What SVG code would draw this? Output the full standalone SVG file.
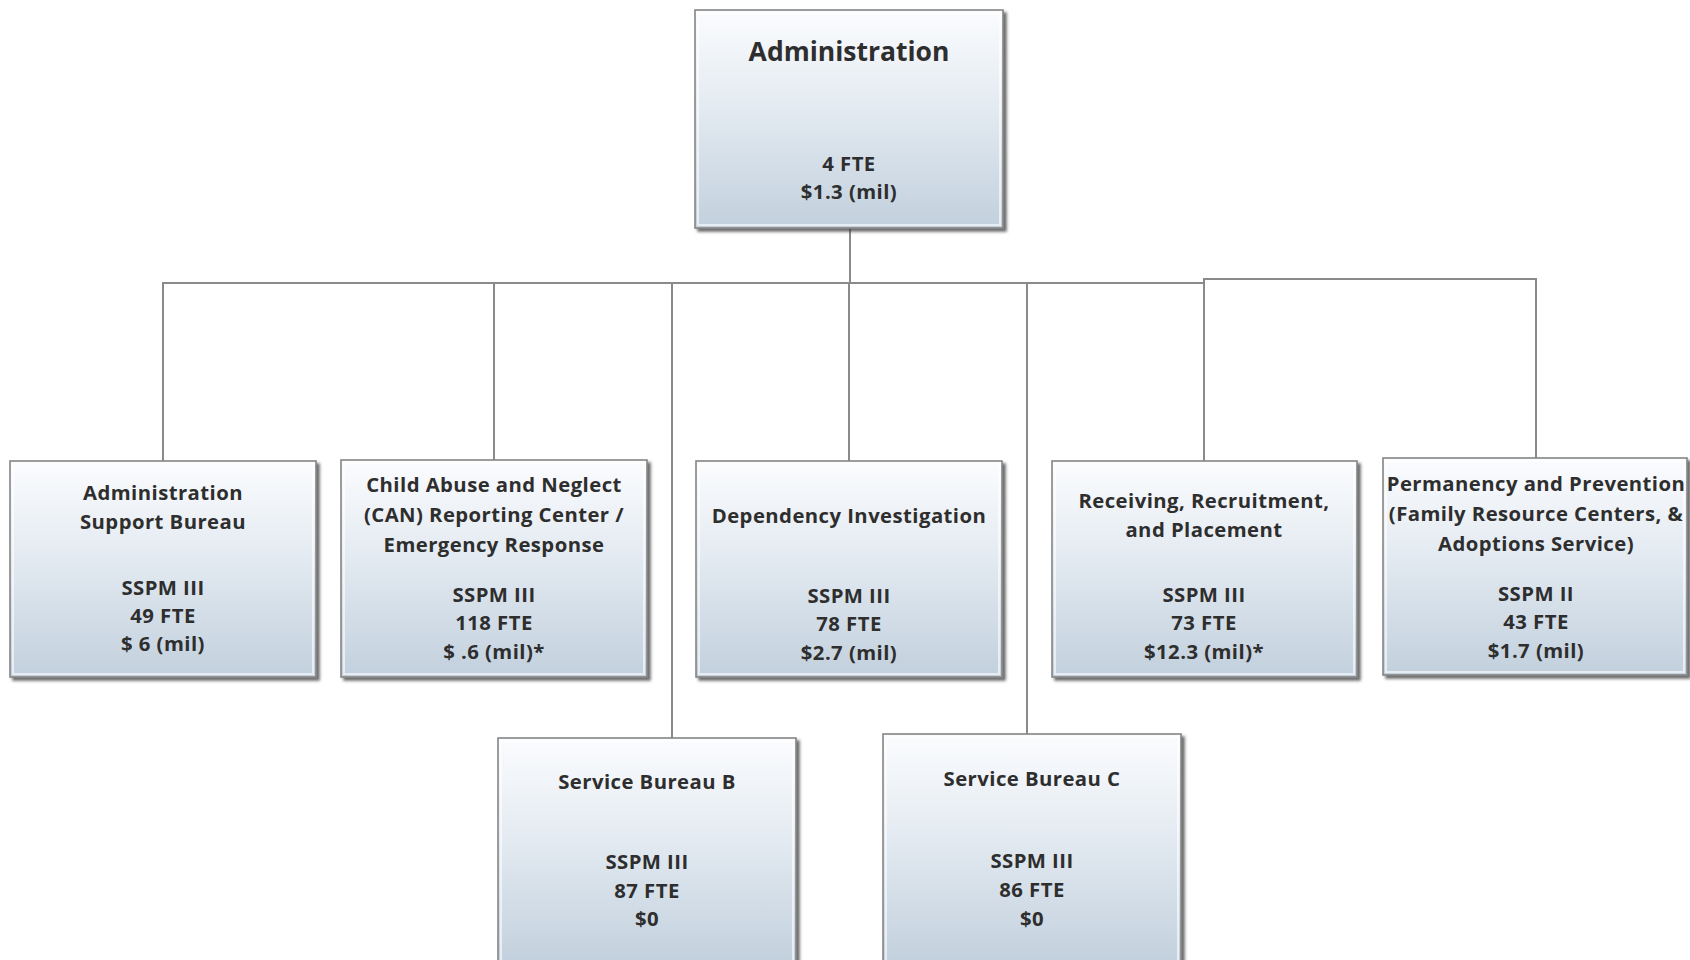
<svg xmlns="http://www.w3.org/2000/svg" width="1690" height="960" viewBox="0 0 1690 960">
<defs>
<linearGradient id="g" x1="0" y1="0" x2="0" y2="1">
<stop offset="0" stop-color="#fbfcfe"/>
<stop offset="0.45" stop-color="#e3eaf1"/>
<stop offset="1" stop-color="#c2d0dd"/>
</linearGradient>
<filter id="sh" x="-5%" y="-5%" width="115%" height="115%">
<feDropShadow dx="3" dy="3" stdDeviation="1.8" flood-color="#3a3a3a" flood-opacity="0.75"/>
</filter>
<style>
.box{fill:url(#g);stroke:#858585;stroke-width:1.6;filter:url(#sh)}
.inner{fill:none;stroke:#ffffff;stroke-opacity:0.6;stroke-width:2}
.t{font-family:"Open Sans","Noto Sans",sans-serif;font-weight:700;font-size:20.3px;letter-spacing:0.45px;fill:#2e2e2e;text-anchor:middle}
.big{font-size:26.5px;letter-spacing:0}
.c{fill:none;stroke:#8a8a8a;stroke-width:2}
</style>
</defs>
<rect width="1690" height="960" fill="#ffffff"/>
<g id="connectors">
<path class="c" d="M850 228 V283"/>
<path class="c" d="M163 461 V283 H1204"/>
<path class="c" d="M494 460 V283"/>
<path class="c" d="M672 738 V283"/>
<path class="c" d="M849 461 V283"/>
<path class="c" d="M1027 734 V283"/>
<path class="c" d="M1204 461 V279 H1536 V458"/>
</g>
<g id="administration">
<rect class="box" x="695" y="10" width="308" height="218"/>
<rect class="inner" x="698" y="13" width="302" height="212"/>
<text class="t big" x="849" y="61">Administration</text>
<text class="t" x="849" y="171">4 FTE</text>
<text class="t" x="849" y="199">$1.3 (mil)</text>
</g>
<g id="admin-support">
<rect class="box" x="10" y="461" width="306" height="216"/>
<rect class="inner" x="13" y="464" width="300" height="210"/>
<text class="t" x="163" y="500">Administration</text>
<text class="t" x="163" y="529">Support Bureau</text>
<text class="t" x="163" y="595">SSPM III</text>
<text class="t" x="163" y="623">49 FTE</text>
<text class="t" x="163" y="651">$ 6 (mil)</text>
</g>
<g id="can">
<rect class="box" x="341" y="460" width="306" height="217"/>
<rect class="inner" x="344" y="463" width="300" height="211"/>
<text class="t" x="494" y="492">Child Abuse and Neglect</text>
<text class="t" x="494" y="522">(CAN) Reporting Center /</text>
<text class="t" x="494" y="552">Emergency Response</text>
<text class="t" x="494" y="602">SSPM III</text>
<text class="t" x="494" y="630">118 FTE</text>
<text class="t" x="494" y="659">$ .6 (mil)*</text>
</g>
<g id="dependency">
<rect class="box" x="696" y="461" width="306" height="216"/>
<rect class="inner" x="699" y="464" width="300" height="210"/>
<text class="t" x="849" y="523">Dependency Investigation</text>
<text class="t" x="849" y="603">SSPM III</text>
<text class="t" x="849" y="631">78 FTE</text>
<text class="t" x="849" y="660">$2.7 (mil)</text>
</g>
<g id="receiving">
<rect class="box" x="1052" y="461" width="305" height="216"/>
<rect class="inner" x="1055" y="464" width="299" height="210"/>
<text class="t" x="1204" y="508">Receiving, Recruitment,</text>
<text class="t" x="1204" y="537">and Placement</text>
<text class="t" x="1204" y="602">SSPM III</text>
<text class="t" x="1204" y="630">73 FTE</text>
<text class="t" x="1204" y="659">$12.3 (mil)*</text>
</g>
<g id="permanency">
<rect class="box" x="1383" y="458" width="304" height="217"/>
<rect class="inner" x="1386" y="461" width="298" height="211"/>
<text class="t" x="1536" y="491">Permanency and Prevention</text>
<text class="t" x="1536" y="521">(Family Resource Centers, &amp;</text>
<text class="t" x="1536" y="551">Adoptions Service)</text>
<text class="t" x="1536" y="601">SSPM II</text>
<text class="t" x="1536" y="629">43 FTE</text>
<text class="t" x="1536" y="658">$1.7 (mil)</text>
</g>
<g id="service-bureau-b">
<rect class="box" x="498" y="738" width="298" height="226"/>
<rect class="inner" x="501" y="741" width="292" height="222"/>
<text class="t" x="647" y="789">Service Bureau B</text>
<text class="t" x="647" y="869">SSPM III</text>
<text class="t" x="647" y="898">87 FTE</text>
<text class="t" x="647" y="926">$0</text>
</g>
<g id="service-bureau-c">
<rect class="box" x="883" y="734" width="298" height="230"/>
<rect class="inner" x="886" y="737" width="292" height="226"/>
<text class="t" x="1032" y="786">Service Bureau C</text>
<text class="t" x="1032" y="868">SSPM III</text>
<text class="t" x="1032" y="897">86 FTE</text>
<text class="t" x="1032" y="926">$0</text>
</g>
</svg>
